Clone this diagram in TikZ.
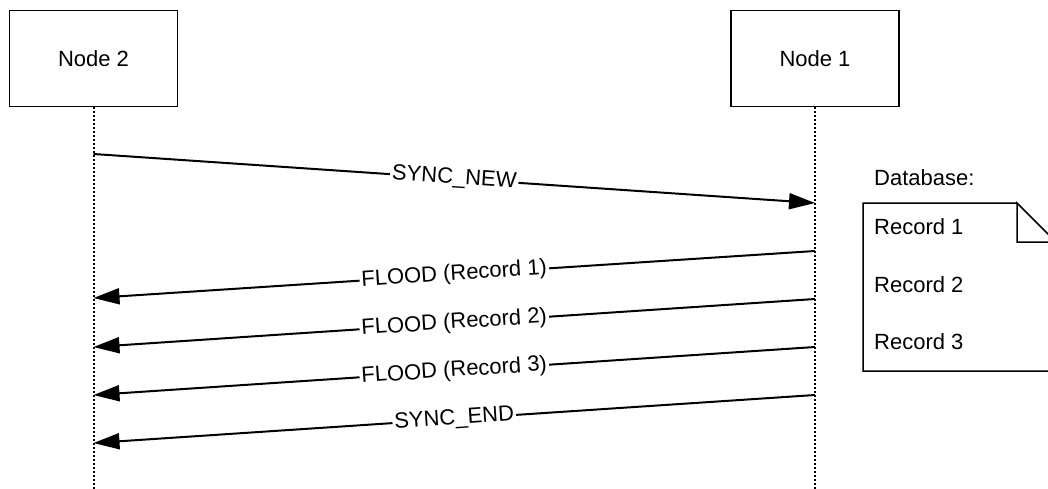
\documentclass[tikz,border=0pt]{standalone}
\usepackage{fontspec}
\setmainfont{Liberation Sans}
\usetikzlibrary{arrows.meta}
\begin{document}
\begin{tikzpicture}[x=1pt,y=-1pt,
  every node/.style={font=\fontsize{22}{27}\selectfont, inner sep=1pt},
  actor/.style={draw, line width=1.7pt, minimum width=168pt, minimum height=96pt, inner sep=0pt},
  lifeline/.style={line width=2pt, dash pattern=on 2pt off 2pt},
  msg/.style={line width=2pt, -{Triangle[length=26pt,width=16pt]}},
  lbl/.style={sloped, midway, fill=white, inner sep=2pt},
  doc/.style={line width=1.5pt}]
\useasboundingbox (0,0) rectangle (1048,489);
\clip (0,0) rectangle (1048,489);
% actors
\node[actor] (n2) at (93.5,58.5) {Node 2};
\node[actor] (n1) at (815,58.5) {Node 1};
% lifelines
\coordinate (l2) at (93.5,489);
\coordinate (l1) at (815,489);
\draw[lifeline] (n2.south) -- (l2);
\draw[lifeline] (n1.south) -- (l1);
% message end points
\coordinate (a1) at (93.5,154);  \coordinate (b1) at (815,203);
\coordinate (a2) at (815,251);   \coordinate (b2) at (93.5,298);
\coordinate (a3) at (815,299);   \coordinate (b3) at (93.5,347);
\coordinate (a4) at (815,347);   \coordinate (b4) at (93.5,395);
\coordinate (a5) at (815,395);   \coordinate (b5) at (93.5,443);
\draw[msg] (a1) -- node[lbl] (t1) {SYNC\_NEW} (b1);
\draw[msg] (a2) -- node[lbl] (t2) {FLOOD (Record 1)} (b2);
\draw[msg] (a3) -- node[lbl] (t3) {FLOOD (Record 2)} (b3);
\draw[msg] (a4) -- node[lbl] (t4) {FLOOD (Record 3)} (b4);
\draw[msg] (a5) -- node[lbl] (t5) {SYNC\_END} (b5);
% database document
\coordinate (d1) at (863,203);
\coordinate (d2) at (1017,203);
\coordinate (d3) at (1017,242);
\coordinate (d4) at (1056,242);
\coordinate (d5) at (1056,371);
\coordinate (d6) at (863,371);
\draw[doc] (d2) -- (d1) -- (d6) -- (d5) -- (d4) -- (d2) -- (d3) -- (d4);
\node[anchor=west] (db) at (873,178) {Database:};
\node[anchor=west] (r1) at (873,227) {Record 1};
\node[anchor=west] (r2) at (873,285) {Record 2};
\node[anchor=west] (r3) at (873,342) {Record 3};
\end{tikzpicture}
\end{document}
